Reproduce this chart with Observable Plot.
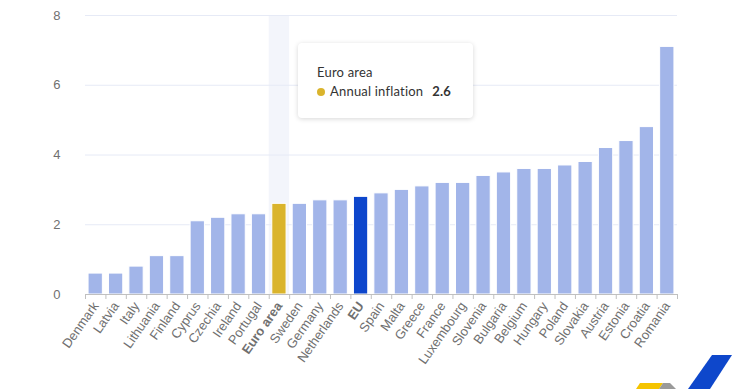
<!DOCTYPE html>
<html>
<head>
<meta charset="utf-8">
<script src="https://cdn.jsdelivr.net/npm/d3@7"></script>
<script src="https://cdn.jsdelivr.net/npm/@observablehq/plot@0.6"></script>
<style>
  html, body { margin: 0; padding: 0; background: #fff; }
  #wrap { position: relative; width: 740px; height: 389px; overflow: hidden; font-family: "Liberation Sans", Arial, sans-serif; }
  #chart svg { display: block; }
  .tip { position: absolute; left: 298px; top: 43px; width: 175px; height: 75px; box-sizing: border-box;
         background: #fff; border-radius: 4px; box-shadow: 0 1px 5px rgba(0,0,0,0.16);
         font-family: Lato, "Open Sans", sans-serif; font-size: 13px; color: #333; padding: 20px 0 0 19px; line-height: 19px; letter-spacing: 0.2px; }
  .tip .dot { display: inline-block; width: 8px; height: 8px; border-radius: 50%; margin-right: 5px; vertical-align: 0px; }
  .tip b { margin-left: 9px; }
  .logo { position: absolute; left: 0; top: 0; pointer-events: none; }
</style>
</head>
<body>
<div id="wrap">
  <div id="chart"></div>
  <div class="tip" id="tip"></div>
  <svg class="logo" width="740" height="389">
    <polygon points="640,383 663,383 659,389 636,389" fill="#f5c400"/>
    <polygon points="663,383 670,383 676,389 659,389" fill="#9a9a9a"/>
    <polygon points="712,355 732,355 710,389 688,389" fill="#0e47cb"/>
  </svg>
</div>
<script>
const countries = ["Denmark","Latvia","Italy","Lithuania","Finland","Cyprus","Czechia","Ireland","Portugal","Euro area","Sweden","Germany","Netherlands","EU","Spain","Malta","Greece","France","Luxembourg","Slovenia","Bulgaria","Belgium","Hungary","Poland","Slovakia","Austria","Estonia","Croatia","Romania"];
const inflation = [0.6,0.6,0.8,1.1,1.1,2.1,2.2,2.3,2.3,2.6,2.6,2.7,2.7,2.8,2.9,3.0,3.1,3.2,3.2,3.4,3.5,3.6,3.6,3.7,3.8,4.2,4.4,4.8,7.1];
const yTicks = [0,2,4,6,8];
const highlighted = "Euro area";
const boldLabels = ["Euro area","EU"];
const seriesName = "Annual inflation";

const colorDefault = "#a2b5e9";
const colorEuroArea = "#dab42c";
const colorEU = "#0d46cc";

const data = countries.map((c, i) => ({country: c, value: inflation[i]}));

const W = 740, H = 389, mL = 85, mR = 63, mT = 15, mB = 95;
const pad = 0.3;
const step = (W - mL - mR) / countries.length;
const fillOf = d => d.country === "Euro area" ? colorEuroArea : d.country === "EU" ? colorEU : colorDefault;

const plot = Plot.plot({
  width: W, height: H,
  marginLeft: mL, marginRight: mR, marginTop: mT, marginBottom: mB,
  style: {fontFamily: "'Liberation Sans', Arial, sans-serif", background: "#fff"},
  x: {domain: countries, paddingInner: pad, paddingOuter: pad / 2, round: false, axis: null},
  y: {domain: [0, 8], axis: null},
  marks: [
    Plot.barY([highlighted], {x: d => d, y1: 0, y2: 8, fill: "#f3f5fb", insetLeft: -pad / 2 * step, insetRight: -pad / 2 * step}),
    Plot.gridY(yTicks, {stroke: "#e6eaf6", strokeOpacity: 1}),
    Plot.axisY({ticks: yTicks, tickSize: 0, tickPadding: 25, fontSize: 13, color: "#707070", label: null}),
    Plot.barY(data, {x: "country", y: "value", fill: fillOf, stroke: "#fff", strokeWidth: 1}),
    Plot.ruleY([0], {stroke: "#c0c0c0"}),
    Plot.ruleX(countries, {x: d => d, y1: 0, y2: 0, dx: -step / 2, insetBottom: -5, stroke: "#c0c0c0"}),
    Plot.ruleX([countries[countries.length - 1]], {x: d => d, y1: 0, y2: 0, dx: step / 2, insetBottom: -5, stroke: "#c0c0c0"}),
    Plot.text(countries.filter(c => !boldLabels.includes(c)), {x: d => d, y: 0, text: d => d, dy: 9, rotate: -55, textAnchor: "end", fontSize: 13, fill: "#707070"}),
    Plot.text(boldLabels, {x: d => d, y: 0, text: d => d, dy: 9, rotate: -55, textAnchor: "end", fontSize: 13, fill: "#707070", fontWeight: "bold"})
  ]
});
document.getElementById("chart").appendChild(plot);

const hv = data.find(d => d.country === highlighted);
document.getElementById("tip").innerHTML =
  `<div>${highlighted}</div><div><span class="dot" style="background:${colorEuroArea}"></span>${seriesName}<b>${hv.value.toFixed(1)}</b></div>`;
</script>
</body>
</html>
